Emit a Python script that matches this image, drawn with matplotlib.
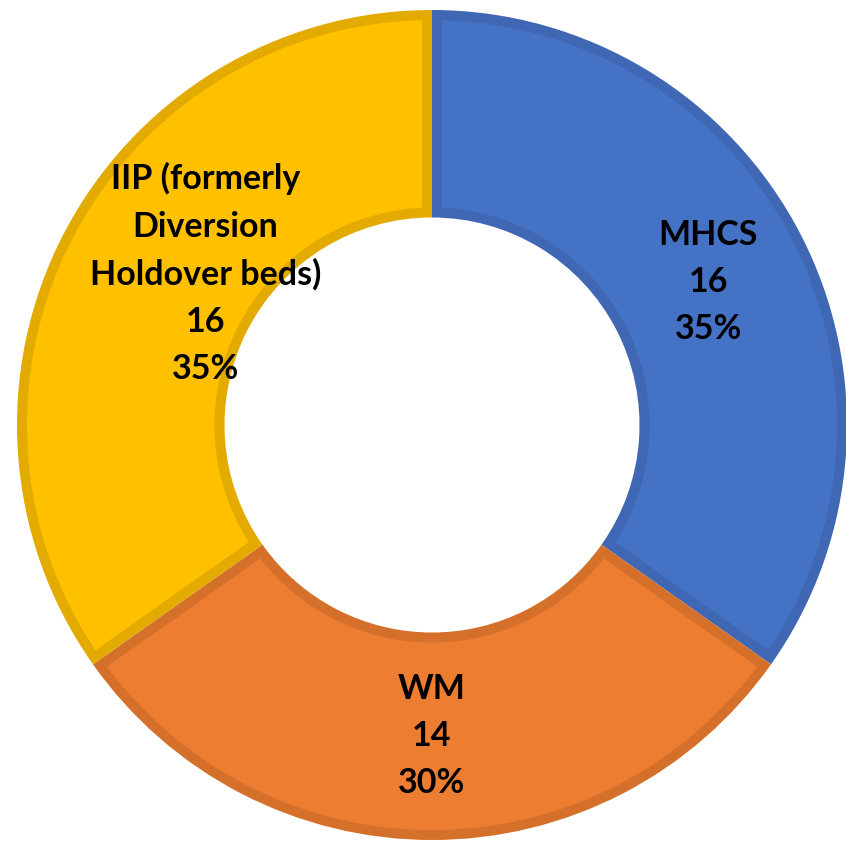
import matplotlib
matplotlib.use("Agg")
import matplotlib.pyplot as plt
from matplotlib.patches import Polygon
import numpy as np

categories = ["MHCS", "WM", "IIP (formerly\nDiversion\nHoldover beds)"]
values = [16, 14, 16]
fill_colors = ["#4472C4", "#ED7D31", "#FFC000"]
edge_colors = ["#3F67B3", "#D5702B", "#E3AA00"]

W, H, DPI = 846, 843, 100
fig = plt.figure(figsize=(W / DPI, H / DPI), dpi=DPI)
ax = fig.add_axes([0, 0, 1, 1])

cx, cy, R = 432, 425, 415  # pixel geometry of the donut
band = 10 / R              # inner stroke width in data units

# Outer wedges carry the border colour; an inset polygon carries the fill colour
wedges, _ = ax.pie(values, colors=edge_colors, startangle=90, counterclock=False,
                   radius=1.0, wedgeprops=dict(width=0.5, linewidth=0))


def inset(w, d):
    t1, t2 = np.deg2rad(w.theta1), np.deg2rad(w.theta2)
    ro, ri = w.r - d, w.r - w.width + d
    a_o1, a_o2 = t1 + np.arcsin(d / ro), t2 - np.arcsin(d / ro)
    a_i1, a_i2 = t1 + np.arcsin(d / ri), t2 - np.arcsin(d / ri)
    to = np.linspace(a_o1, a_o2, 200)
    ti = np.linspace(a_i2, a_i1, 200)
    xs = np.concatenate([ro * np.cos(to), ri * np.cos(ti)])
    ys = np.concatenate([ro * np.sin(to), ri * np.sin(ti)])
    return np.column_stack([xs, ys])


for w, fc in zip(wedges, fill_colors):
    ax.add_patch(Polygon(inset(w, band), closed=True, facecolor=fc, edgecolor="none"))

ax.set_xlim(-cx / R, (W - cx) / R)
ax.set_ylim(-(H - cy) / R, cy / R)
ax.set_aspect("auto")
ax.axis("off")

total = sum(values)
pcts = [round(v / total * 100) for v in values]
offsets = [(0, 0), (0, 0), (0.12, 0.02)]
start = 90.0
for i, (cat, v, p) in enumerate(zip(categories, values, pcts)):
    sweep = v / total * 360
    mid = np.deg2rad(start - sweep / 2)
    start -= sweep
    x = 0.75 * np.cos(mid) + offsets[i][0]
    y = 0.75 * np.sin(mid) + offsets[i][1]
    ax.text(x, y, f"{cat}\n{v}\n{p}%", ha="center", va="center", fontsize=24.5,
            fontweight="bold", family=["Lato", "DejaVu Sans"], color="black",
            linespacing=1.58)

fig.savefig("out.png", dpi=DPI)
